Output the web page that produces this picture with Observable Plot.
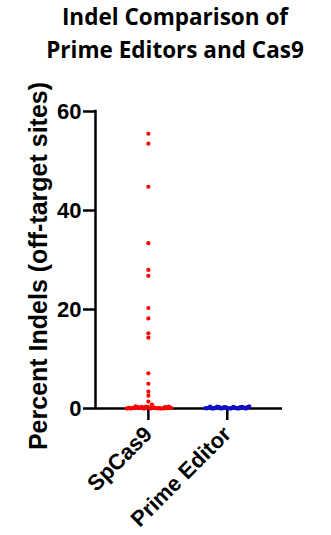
<!DOCTYPE html>
<html>
<head>
<meta charset="utf-8">
<script src="https://cdn.jsdelivr.net/npm/d3@7"></script>
<script src="https://cdn.jsdelivr.net/npm/@observablehq/plot@0.6"></script>
<style>
  html, body { margin: 0; padding: 0; background: #fff; }
  #wrap { position: relative; width: 331px; height: 535px; overflow: hidden; }
  #title {
    position: absolute; left: 0; top: 0px; width: 350px;
    text-align: center; font-family: "Open Sans", Lato, sans-serif;
    font-weight: bold; font-size: 22.5px; line-height: 33px; color: #000;
  }
  #chart { position: absolute; left: 0; top: 0; }
</style>
</head>
<body>
<div id="wrap">
  <div id="chart"></div>
  <div id="title">Indel Comparison of<br>Prime Editors and Cas9</div>
</div>
<script>
// ---- data ----
const categories = ["SpCas9", "Prime Editor"];
const colors = ["#ff0000", "#1010c8"];
const spcas9 = [55.5, 53.5, 44.8, 33.4, 28.0, 26.8, 20.3, 18.2, 15.2, 14.3, 7.1, 5.0, 3.4, 2.6, 1.4, 0.8,
  0.3, 0.05, 0.2, 0.0, 0.4, 0.1, 0.02, 0.25, 0.0, 0.15, 0.35, 0.05, 0.1, 0.0, 0.2, 0.08, 0.3, 0.02,
  0.12, 0.0, 0.45, 0.05, 0.18, 0.0, 0.1, 0.3, 0.03, 0.22, 0.0, 0.06, 0.15, 0.4, 0.01, 0.2, 0.0, 0.1];
const primeEditor = [0.1, 0.0, 0.2, 0.05, 0.3, 0.0, 0.15, 0.02, 0.25, 0.1, 0.0, 0.35, 0.05, 0.2,
  0.0, 0.12, 0.3, 0.03, 0.18, 0.0, 0.4, 0.08, 0.22, 0.0, 0.1, 0.28, 0.04, 0.15, 0.0, 0.33,
  0.06, 0.2, 0.0, 0.12, 0.38, 0.02, 0.25, 0.0, 0.1, 0.3, 0.05, 0.18, 0.0, 0.42, 0.1];
const yTicks = [0, 20, 40, 60];
const yLabel = "Percent Indels (off-target sites)";

// ---- layout ----
const W = 331, H = 535, mL = 95, mR = 49, mT = 111, mB = 127;
const xDomain = [0.33, 2.7];
const yDomain = [0, 60];
const pxPerUnit = (W - mL - mR) / (xDomain[1] - xDomain[0]);

// scatter-dot layout: points in the same value bin are spread horizontally
function swarm(values, center, category, halfWidthPx, binSize) {
  const bins = d3.group(values.map((v, i) => ({v, i})), d => Math.floor(d.v / binSize));
  const rows = [];
  for (const [, pts] of bins) {
    const n = pts.length;
    const half = Math.ceil((n - 1) / 2);
    const step = half ? Math.min(3.6, halfWidthPx / half) : 0;
    pts.forEach((p, k) => {
      const side = k === 0 ? 0 : (k % 2 ? 1 : -1);
      const rank = Math.ceil(k / 2);
      rows.push({category, value: p.v, x: center + side * rank * step / pxPerUnit});
    });
  }
  return rows;
}

const data = [
  ...swarm(spcas9, 1, categories[0], 23, 0.8),
  ...swarm(primeEditor, 2, categories[1], 22, 0.8)
];

const chart = Plot.plot({
  width: W, height: H,
  marginLeft: mL, marginRight: mR, marginTop: mT, marginBottom: mB,
  style: {fontFamily: "'Liberation Sans', Arial, sans-serif", color: "#000", background: "transparent"},
  x: {domain: xDomain, axis: null},
  y: {domain: yDomain, axis: null},
  color: {domain: categories, range: colors},
  marks: [
    Plot.axisY(yTicks, {
      anchor: "left", tickSize: 12, tickPadding: 2, strokeWidth: 2.5,
      fontSize: 22, fontWeight: "bold", label: null
    }),
    Plot.axisX([1, 2], {
      anchor: "bottom", tickSize: 12, tickPadding: 10, strokeWidth: 2.5,
      tickRotate: -45, tickFormat: d => categories[d - 1],
      fontSize: 22, fontWeight: "bold", label: null
    }),
    Plot.ruleX([xDomain[0]], {strokeWidth: 2.5, strokeLinecap: "square"}),
    Plot.ruleY([yDomain[0]], {strokeWidth: 2.5}),
    Plot.text([yLabel], {
      frameAnchor: "left", textAnchor: "middle", dx: -57, dy: 6, rotate: -90,
      fontSize: 25, fontWeight: "bold", fill: "#000"
    }),
    Plot.dot(data, {x: "x", y: "value", r: 2.1, fill: "category", stroke: null, clip: false})
  ]
});
document.getElementById("chart").appendChild(chart);
</script>
</body>
</html>
